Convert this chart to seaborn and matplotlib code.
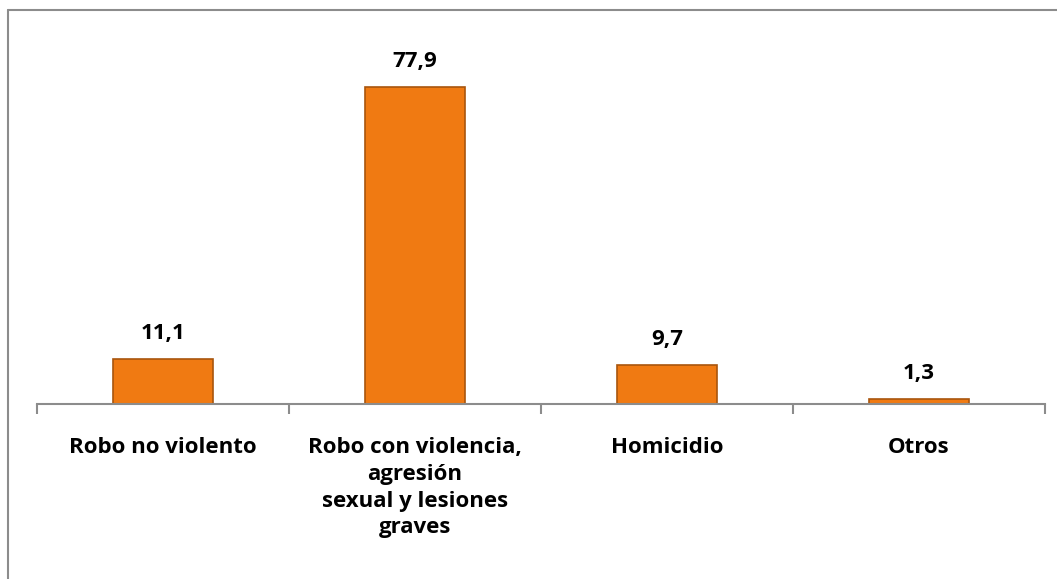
import matplotlib
matplotlib.use("Agg")
import matplotlib.pyplot as plt
import seaborn as sns
import pandas as pd
from matplotlib.lines import Line2D

categories = ["Robo no violento",
              "Robo con violencia,\nagresión\nsexual y lesiones\ngraves",
              "Homicidio", "Otros"]
values = [11.1, 77.9, 9.7, 1.3]
value_labels = ["11,1", "77,9", "9,7", "1,3"]

df = pd.DataFrame({"cat": categories, "val": values})

sns.set_style("white")
plt.rcParams["font.family"] = ["Open Sans", "DejaVu Sans"]

fig = plt.figure(figsize=(10.57, 5.79), dpi=100)
ax = fig.add_axes([37 / 1057, (579 - 404) / 579, (1045 - 37) / 1057, 0.64])

sns.barplot(data=df, x="cat", y="val", color="#F07A12", width=0.4,
            edgecolor="#A9550D", linewidth=1.2, saturation=1, ax=ax)

ax.set_ylim(0, 91)
ax.set_xlim(-0.5, 3.5)
ax.set_xlabel("")
ax.set_ylabel("")
ax.set_yticks([])
for s in ["top", "right", "left"]:
    ax.spines[s].set_visible(False)
ax.spines["bottom"].set_color("#8C8C8C")
ax.spines["bottom"].set_linewidth(1.5)

# ticks between categories
ax.set_xticks(range(len(categories)))
ax.set_xticklabels(categories, fontsize=16, fontweight="bold", linespacing=1.35,
                   color="black")
ax.set_xticks([-0.5, 0.5, 1.5, 2.5, 3.5], minor=True)
ax.tick_params(axis="x", which="minor", bottom=True, length=7, width=1.5,
               color="#8C8C8C", direction="out")
ax.tick_params(axis="x", which="major", bottom=False, length=0, pad=24)

for i, (v, lab) in enumerate(zip(values, value_labels)):
    ax.text(i, v + 3.6, lab, ha="center", va="bottom", fontsize=16,
            fontweight="bold", color="black")

# outer frame (top and left edges)
fig.add_artist(Line2D([8 / 1057, 1], [1 - 10 / 579, 1 - 10 / 579], color="#8C8C8C", lw=1.5))
fig.add_artist(Line2D([8 / 1057, 8 / 1057], [0, 1 - 10 / 579], color="#8C8C8C", lw=1.5))

fig.savefig("out.png", dpi=100)
